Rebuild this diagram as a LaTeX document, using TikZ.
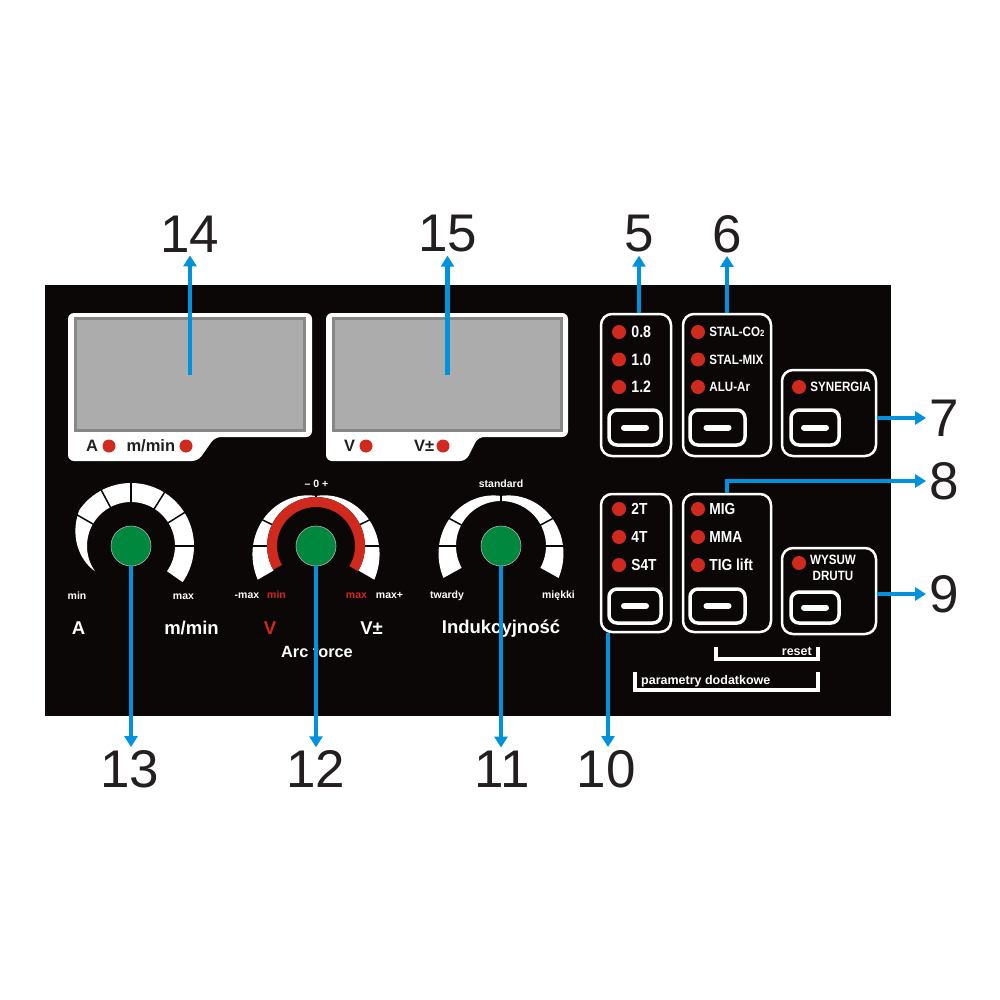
\documentclass[tikz,border=0pt]{standalone}
\usepackage{fontspec}
\setmainfont{Liberation Sans}
\newfontfamily\narrowfont[FakeStretch=0.86]{Liberation Sans}
\usetikzlibrary{arrows.meta,positioning}

\definecolor{panelblack}{RGB}{10,7,6}
\definecolor{ledred}{RGB}{208,42,30}
\definecolor{knobgreen}{RGB}{0,137,62}
\definecolor{screengray}{RGB}{172,172,172}
\definecolor{screenedge}{RGB}{135,135,135}
\definecolor{callblue}{RGB}{0,146,221}
\definecolor{numgray}{RGB}{35,31,32}

\newcommand{\fsz}[1]{\fontsize{#1}{#1}\selectfont}

\tikzset{
  callout/.style={draw=callblue, line width=4.5pt, -{Triangle[width=13pt,length=11pt]}},
  num/.style={font=\fsz{53}, text=numgray, inner sep=3pt},
  screen/.style={draw=screenedge, fill=screengray, line width=3pt},
  led/.style={circle, fill=ledred, minimum size=14pt, inner sep=0pt},
  disptext/.style={font=\bfseries\fsz{16.5}, text=numgray, inner sep=0pt},
  knob/.style={circle, fill=knobgreen, draw=gray!60, line width=0.6pt, minimum size=40pt, inner sep=0pt},
  knobsmall/.style={font=\bfseries\fsz{10.5}, text=white, inner sep=0pt},
  knobbig/.style={font=\bfseries\fsz{18.5}, text=white, inner sep=0pt},
  ctrlbox/.style={draw=white, line width=2.5pt, rounded corners=11pt, fill=panelblack},
  pushbtn/.style={draw=white, line width=3.5pt, rounded corners=8pt, fill=panelblack},
  btndash/.style={draw=white, line width=6pt, line cap=round},
  boxtext/.style={text=white, inner sep=0pt},
  bracket/.style={draw=white, line width=3.5pt},
}

\begin{document}
\begin{tikzpicture}[x=1pt,y=-1pt]
\fill[white] (0,0) rectangle (1000,1000);
\useasboundingbox (0,0) rectangle (1000,1000);

% front panel
\fill[panelblack] (45,285) rectangle (891,716);

% displays
\fill[white, rounded corners=6pt] (68,313) -- (312,313) -- (312,437) -- (215,437) -- (198,461) -- (68,461) -- cycle;
\fill[white, rounded corners=6pt] (326,313) -- (568,313) -- (568,437) -- (478,437) -- (466,461) -- (326,461) -- cycle;
\node[screen, minimum width=229pt, minimum height=112pt] (scr14) at (190,374.5) {};
\node[screen, minimum width=228pt, minimum height=112pt] (scr15) at (447.5,374.5) {};

\node[led, minimum size=13pt] (dA) at (109,446) {};
\node[disptext, left=4pt of dA] {A};
\node[led, minimum size=13pt] (dM) at (186,446) {};
\node[disptext, left=4pt of dM] {m/min};
\node[led, minimum size=13pt] (dV) at (366,446) {};
\node[disptext, left=4pt of dV] {V};
\node[led, minimum size=13pt] (dVpm) at (443,446) {};
\node[disptext, left=2pt of dVpm] {V±};

% knob 13 scale
\begin{scope}[shift={(131,546)}, yscale=-1]
  \fill[white] plot[domain=215:-35, samples=80] (\x:{44+min(19,(215-(\x))*19/70)})
    -- plot[domain=-35:215, samples=60] (\x:44) -- cycle;
  \foreach \a in {150,118,90,58,32,0}
    \draw[panelblack, line width=1.5pt] (\a:42) -- (\a:68);
\end{scope}

% knob 12 scale
\begin{scope}[shift={(316,546)}, yscale=-1]
  \fill[white] plot[domain=210:-30, samples=80] (\x:{50+abs((\x)-90)*13/90})
    -- plot[domain=-30:210, samples=60] (\x:49) -- cycle;
  \fill[ledred] plot[domain=209:-31, samples=60] (\x:49)
    -- plot[domain=-31:209, samples=60] (\x:39) -- cycle;
  \foreach \a in {154,180,26,0}
    \draw[panelblack, line width=1.5pt] (\a:49) -- (\a:72);
  \draw[panelblack, line width=1.2pt] (90:49) -- (90:53);
\end{scope}

% knob 11 scale
\begin{scope}[shift={(501,546)}, yscale=-1]
  \fill[white] plot[domain=209:-29, samples=80] (\x:{50+abs((\x)-90)*12/90})
    -- plot[domain=-29:209, samples=60] (\x:45) -- cycle;
  \foreach \a in {152,180,28,0,90}
    \draw[panelblack, line width=1.5pt] (\a:43) -- (\a:68);
\end{scope}

\node[knob] (k13) at (131,546) {};
\node[knob] (k12) at (316,546) {};
\node[knob] (k11) at (501,546) {};

% knob labels
\node[knobsmall, anchor=base] at (77,599) {min};
\node[knobsmall, anchor=base] at (183.5,599) {max};
\node[knobbig, anchor=base] at (78.5,634) {A};
\node[knobbig, anchor=base] at (191.5,634) {m/min};

\node[knobsmall, anchor=base] at (316.5,487) {-- 0 +};
\node[knobsmall, anchor=base] at (247,598) {-max};
\node[knobsmall, anchor=base, text=ledred] at (276.5,598) {min};
\node[knobsmall, anchor=base, text=ledred] at (356.5,598) {max};
\node[knobsmall, anchor=base] at (389.5,598) {max+};
\node[knobbig, anchor=base, text=ledred] at (270,634) {V};
\node[knobbig, anchor=base] at (371.5,634) {V±};
\node[knobbig, anchor=base, font=\bfseries\fsz{16.3}] at (317,657) {Arc force};

\node[knobsmall, anchor=base] at (501,487) {standard};
\node[knobsmall, anchor=base] at (447,598) {twardy};
\node[knobsmall, anchor=base] at (558.5,598) {miękki};
\node[knobbig, anchor=base] at (501,633) {Indukcyjność};

% control boxes
\node[ctrlbox, minimum width=70pt, minimum height=142pt] (b5) at (636,385) {};
\node[ctrlbox, minimum width=88pt, minimum height=142pt] (b6) at (727,385) {};
\node[ctrlbox, minimum width=94pt, minimum height=86pt] (b7) at (829,413) {};
\node[ctrlbox, minimum width=70pt, minimum height=138pt] (b10) at (636,563) {};
\node[ctrlbox, minimum width=88pt, minimum height=138pt] (b8) at (727,563) {};
\node[ctrlbox, minimum width=94pt, minimum height=86pt] (b9) at (829,591) {};

% push buttons
\foreach \n/\x/\y/\w/\h in {5/635/427.5/52/35, 6/717.5/427.5/55/35, 7/815/427.5/48/35,
    10/635/606/52/34, 8/717.5/606/55/34, 9/815/607.5/48/31}{
  \node[pushbtn, minimum width=\w pt, minimum height=\h pt] (btn\n) at (\x,\y) {};
  \draw[btndash] ([xshift=-11pt]btn\n.center) -- ([xshift=11pt]btn\n.center);
}

% leds and texts
\foreach \t [count=\i] in {0.8,1.0,1.2}{
  \node[led] (led5-\i) at (619,{304.5+27.5*\i}) {};
  \node[boxtext, font=\narrowfont\bfseries\fsz{16.5}, right=5pt of led5-\i] {\t};
}
\foreach \t [count=\i] in {{STAL-CO{\fsz{9}2}},STAL-MIX,ALU-Ar}{
  \node[led] (led6-\i) at (698,{304.5+27.5*\i}) {};
  \node[boxtext, font=\narrowfont\bfseries\fsz{13.5}, right=4pt of led6-\i] {\t};
}
\node[led] (led7) at (799,387) {};
\node[boxtext, font=\narrowfont\bfseries\fsz{13.5}, right=4pt of led7] {SYNERGIA};

\foreach \t [count=\i] in {2T,4T,S4T}{
  \node[led] (led10-\i) at (619,{481+28*\i}) {};
  \node[boxtext, font=\narrowfont\bfseries\fsz{16}, right=5pt of led10-\i] {\t};
}
\foreach \t [count=\i] in {MIG,MMA,TIG lift}{
  \node[led] (led8-\i) at (698,{481+28*\i}) {};
  \node[boxtext, font=\narrowfont\bfseries\fsz{16}, right=4pt of led8-\i] {\t};
}
\node[led] (led9) at (799,563) {};
\node[boxtext, font=\narrowfont\bfseries\fsz{13.5}, align=center] at (833,568) {WYSUW\\[2pt]DRUTU};

% brackets under the buttons
\draw[bracket] (716,647) -- (716,659) -- (818,659) -- (818,647);
\node[boxtext, font=\bfseries\fsz{12.5}, anchor=base east] at (812,655) {reset};
\draw[bracket] (635,672) -- (635,690) -- (818,690) -- (818,672);
\node[boxtext, font=\bfseries\fsz{12.5}, anchor=base west] at (641,684) {parametry dodatkowe};

% numbers
\node[num] (n14) at (190,234) {14};
\node[num] (n15) at (447.5,234) {15};
\node[num] (n5) at (639,234) {5};
\node[num] (n6) at (727,234) {6};
\node[num] (n7) at (944,418) {7};
\node[num] (n8) at (944,481) {8};
\node[num] (n9) at (944,594) {9};
\node[num] (n13) at (130,769) {13};
\node[num] (n12) at (316,769) {12};
\node[num] (n11) at (502,769) {11};
\node[num] (n10) at (606,769) {10};

% callouts
\draw[callout] (scr14.center) -- (n14.south);
\draw[callout] (scr15.center) -- (n15.south);
\draw[callout] (n5 |- b5.north) -- (n5.south);
\draw[callout] (n6 |- b6.north) -- (n6.south);
\draw[callout] (b7.east |- n7) -- (n7.west);
\draw[callout] (b8.north) |- (n8.west);
\draw[callout] (b9.east |- n9) -- (n9.west);
\draw[callout] ([xshift=-28pt]b10.south) -- ([xshift=-28pt]b10.south |- n10.north);
\draw[callout] (k13.south) -- (k13.south |- n13.north);
\draw[callout] (k12.south) -- (k12.south |- n12.north);
\draw[callout] (k11.south) -- (k11.south |- n11.north);
\end{tikzpicture}
\end{document}
